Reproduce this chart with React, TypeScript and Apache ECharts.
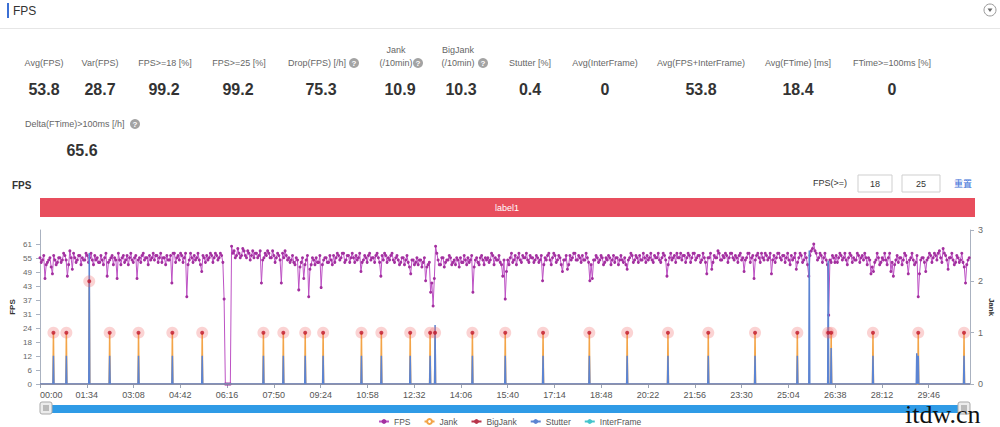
import React, { useEffect, useRef } from "react";
import * as echarts from "echarts";

// ---------------- data ----------------
const FPS_STEP_SECONDS = 5;
const FPS_OFFSET_SECONDS = 2.5;
const TIME_END = 1869;
const X_LABEL_STEP = 94;

// samples at t = i * 5 s
const fpsValues: number[] = [
  55, 54, 46, 53, 55, 48, 54, 53, 55, 54, 56, 47, 58, 50, 55, 54, 56, 55, 54, 56,
  55, 54, 56, 55, 53, 54, 55, 47, 54, 56, 55, 46, 54, 55, 53, 56, 55, 54, 55, 46,
  55, 56, 54, 55, 56, 55, 54, 56, 55, 53, 55, 56, 54, 44, 57, 55, 54, 56, 55, 38,
  54, 55, 56, 55, 54, 49, 55, 56, 55, 56, 55, 56, 55, 56, 37, 0, 0, 60, 58, 56,
  57, 56, 58, 55, 57, 56, 55, 57, 56, 44, 55, 56, 57, 55, 56, 55, 56, 44, 55, 56,
  55, 54, 53, 55, 41, 53, 46, 54, 38, 52, 54, 55, 53, 42, 54, 55, 53, 54, 56, 55,
  56, 55, 57, 54, 56, 55, 55, 56, 55, 49, 54, 55, 56, 54, 55, 56, 55, 47, 54, 56,
  55, 56, 54, 55, 54, 53, 55, 54, 53, 48, 54, 53, 52, 54, 53, 45, 52, 40, 34, 60,
  54, 52, 55, 53, 54, 55, 53, 52, 54, 55, 53, 54, 55, 54, 40, 54, 53, 55, 54, 55,
  55, 54, 56, 55, 54, 53, 47, 37, 54, 55, 53, 56, 55, 54, 56, 55, 54, 56, 55, 54,
  55, 54, 45, 55, 56, 54, 55, 56, 54, 55, 49, 54, 50, 56, 55, 57, 54, 55, 56, 54,
  55, 45, 46, 54, 55, 54, 55, 53, 54, 55, 54, 53, 55, 54, 54, 55, 50, 55, 56, 54,
  55, 56, 54, 55, 56, 55, 54, 56, 55, 54, 55, 56, 47, 55, 54, 56, 57, 55, 54, 56,
  55, 56, 55, 57, 55, 56, 54, 55, 48, 55, 50, 56, 55, 57, 54, 55, 56, 55, 57, 54,
  55, 56, 54, 49, 55, 57, 55, 46, 56, 55, 57, 54, 56, 55, 48, 56, 55, 57, 54, 56,
  55, 54, 56, 55, 50, 55, 56, 54, 55, 47, 58, 61, 57, 55, 56, 55, 54, 30, 53, 55,
  56, 55, 56, 55, 54, 55, 56, 55, 54, 56, 55, 54, 55, 55, 48, 49, 54, 55, 53, 54,
  54, 55, 49, 47, 54, 53, 55, 54, 56, 48, 55, 54, 53, 38, 54, 55, 49, 55, 56, 55,
  56, 57, 55, 59, 56, 50, 55, 54, 53, 55, 54, 53, 44, 54,
];

// samples at t = i * 5 + 2.5 s
const fpsValuesOffset: number[] = [
  53, 56, 52, 54, 51, 56, 52, 55, 53, 57, 54, 52, 55, 57, 53, 56, 52, 54, 57, 53,
  57, 52, 54, 53, 56, 52, 57, 53, 55, 52, 54, 57, 52, 56, 54, 52, 57, 53, 56, 54,
  53, 57, 55, 52, 54, 57, 56, 53, 57, 55, 52, 54, 56, 57, 53, 56, 57, 53, 57, 52,
  57, 53, 54, 57, 52, 56, 53, 54, 57, 53, 57, 54, 57, 53, 0, 0, 0, 57, 55, 59,
  55, 59, 56, 58, 54, 58, 57, 55, 58, 54, 57, 58, 55, 58, 53, 57, 54, 57, 58, 54,
  53, 56, 52, 54, 51, 55, 52, 56, 50, 55, 52, 53, 56, 52, 55, 53, 56, 52, 53, 57,
  54, 57, 53, 56, 53, 57, 53, 54, 57, 53, 56, 53, 57, 55, 53, 57, 53, 56, 57, 53,
  54, 57, 53, 56, 52, 55, 52, 56, 51, 54, 52, 55, 54, 51, 55, 51, 53, 44, 46, 57,
  52, 55, 51, 54, 56, 52, 54, 55, 51, 53, 56, 52, 53, 56, 51, 55, 52, 56, 52, 54,
  53, 57, 52, 54, 56, 52, 54, 49, 52, 57, 54, 52, 57, 53, 55, 57, 53, 55, 53, 56,
  53, 56, 52, 54, 57, 52, 57, 53, 56, 52, 54, 56, 52, 54, 57, 54, 56, 53, 54, 57,
  53, 52, 54, 56, 53, 56, 52, 55, 56, 52, 56, 55, 52, 56, 53, 52, 54, 57, 53, 56,
  53, 54, 57, 53, 54, 57, 53, 55, 57, 53, 57, 54, 52, 57, 55, 53, 55, 57, 56, 53,
  57, 53, 57, 54, 56, 53, 57, 53, 55, 57, 53, 55, 58, 54, 56, 57, 53, 57, 55, 56,
  53, 57, 55, 54, 57, 53, 56, 54, 57, 53, 55, 57, 54, 57, 54, 53, 57, 55, 56, 53,
  57, 52, 54, 57, 53, 57, 53, 57, 52, 56, 59, 58, 54, 57, 53, 57, 52, 54, 56, 53,
  53, 57, 54, 57, 52, 57, 53, 54, 57, 53, 56, 57, 52, 54, 51, 53, 57, 52, 55, 57,
  52, 57, 53, 52, 56, 55, 52, 57, 53, 54, 57, 52, 56, 48, 55, 53, 54, 57, 53, 57,
  54, 58, 53, 57, 54, 55, 57, 52, 56, 53, 57, 51, 52, 55,
];

const jankTimes = [27, 53, 99, 140, 198, 266, 326, 449, 489, 533, 569, 646, 686, 744, 784, 794, 869, 935, 1011, 1104, 1180, 1262, 1343, 1437, 1522, 1584, 1590, 1674, 1765, 1857];
const jankCounts = [1, 1, 2, 1, 1, 1, 1, 1, 1, 1, 1, 1, 1, 1, 1, 1, 1, 1, 1, 1, 1, 1, 1, 1, 1, 1, 1, 1, 1, 1];

const stutterTimes = [27, 53, 99, 140, 198, 266, 326, 449, 489, 533, 569, 646, 686, 744, 784, 794, 869, 935, 1011, 1104, 1180, 1262, 1343, 1437, 1522, 1546, 1584, 1590, 1674, 1762, 1765, 1857];
const stutterValues = [0.55, 0.55, 2.55, 0.55, 0.55, 0.55, 0.55, 0.55, 0.55, 0.55, 0.55, 0.55, 0.55, 0.55, 0.55, 1.15, 0.55, 0.55, 0.55, 0.55, 0.55, 0.55, 0.55, 0.55, 0.55, 2.6, 2.4, 0.7, 0.55, 0.6, 0.55, 0.55];

const statLabels = ["Avg(FPS)", "Var(FPS)", "FPS>=18 [%]", "FPS>=25 [%]", "Drop(FPS) [/h]", "Jank\n(/10min)", "BigJank\n(/10min)", "Stutter [%]", "Avg(InterFrame)", "Avg(FPS+InterFrame)", "Avg(FTime) [ms]", "FTime>=100ms [%]"];
const statValues = ["53.8", "28.7", "99.2", "99.2", "75.3", "10.9", "10.3", "0.4", "0", "53.8", "18.4", "0"];
const extraStatLabel = "Delta(FTime)>100ms [/h]";
const extraStatValue = "65.6";

const legendNames = ["FPS", "Jank", "BigJank", "Stutter", "InterFrame"];
const fpsThresholds = ["18", "25"];
const leftAxisName = "FPS";
const rightAxisName = "Jank";

// ---------------- layout (not data) ----------------
const statLabelX = [44, 100, 165, 239, 317, 396, 458, 530, 605, 701, 798, 892];
const statValueX = [44, 100, 164, 238, 321, 400, 461, 530, 605, 701, 798, 892];
const statHelpX: (number | null)[] = [null, null, null, null, 354, 418, 483, null, null, null, null, null];

const FONT = "Liberation Sans, Arial, Helvetica, sans-serif";

function pad2(n: number) {
  return (n < 10 ? "0" : "") + n;
}
function fmtTime(v: number) {
  const s = Math.round(v);
  return pad2(Math.floor(s / 60)) + ":" + pad2(s % 60);
}

function spikes(times: number[], values: number[], end: number) {
  const pairs = times.map((t, i) => [t, values[i]]).sort((a, b) => a[0] - b[0]);
  const pts: number[][] = [[0, 0]];
  pairs.forEach(([t, v]) => {
    pts.push([t - 1, 0], [t, v], [t + 1, 0]);
  });
  pts.push([end, 0]);
  return pts;
}

function txt(text: string, x: number, y: number, o: any = {}) {
  return {
    type: "text",
    x,
    y,
    rotation: o.rotation || 0,
    silent: true,
    z: 10,
    style: {
      text,
      fill: o.fill || "#666",
      fontSize: o.size || 9,
      fontWeight: o.weight || "normal",
      fontFamily: o.family || FONT,
      textAlign: o.align || "center",
      textVerticalAlign: o.valign || "middle",
    },
  };
}

function helpIcon(x: number, y: number) {
  return [
    { type: "circle", silent: true, shape: { cx: x, cy: y, r: 5 }, style: { fill: "#a3a3a3" } },
    txt("?", x, y + 0.5, { fill: "#fff", size: 8, weight: "bold" }),
  ];
}

export default function App() {
  const ref = useRef<HTMLDivElement>(null);

  useEffect(() => {
    if (!ref.current) return;
    const chart = echarts.init(ref.current, null, { renderer: "svg" });

    const fpsData = fpsValues
      .map((v, i) => [i * FPS_STEP_SECONDS, v])
      .concat(fpsValuesOffset.map((v, i) => [i * FPS_STEP_SECONDS + FPS_OFFSET_SECONDS, v]))
      .sort((a, b) => a[0] - b[0]);
    const jankData = spikes(jankTimes, jankCounts, TIME_END);
    const stutterData = spikes(stutterTimes, stutterValues, TIME_END);
    const markData = jankTimes.map((t, i) => [t, jankCounts[i]]);

    const graphics: any[] = [];
    // header
    graphics.push({ type: "rect", silent: true, shape: { x: 7, y: 3, width: 2, height: 15 }, style: { fill: "#3b6fd4" } });
    graphics.push(txt("FPS", 13, 11, { align: "left", size: 12, fill: "#333", weight: "500" }));
    graphics.push({ type: "circle", silent: true, shape: { cx: 990, cy: 10, r: 6 }, style: { fill: "#fff", stroke: "#9a9a9a", lineWidth: 1 } });
    graphics.push({ type: "polygon", silent: true, shape: { points: [[987.5, 8.5], [992.5, 8.5], [990, 12]] }, style: { fill: "#666" } });
    graphics.push({ type: "line", silent: true, shape: { x1: 0, y1: 28.5, x2: 1000, y2: 28.5 }, style: { stroke: "#e6e6e6", lineWidth: 1 } });

    // stats
    statLabels.forEach((label, i) => {
      const lines = label.split("\n");
      if (lines.length === 2) {
        graphics.push(txt(lines[0], statLabelX[i], 50));
        graphics.push(txt(lines[1], statLabelX[i], 63));
      } else {
        graphics.push(txt(label, statLabelX[i], 63));
      }
      const hx = statHelpX[i];
      if (hx !== null) graphics.push(...helpIcon(hx, 63));
      graphics.push(txt(statValues[i], statValueX[i], 89, { size: 16, weight: "bold", fill: "#333" }));
    });
    graphics.push(txt(extraStatLabel, 25, 124, { align: "left" }));
    graphics.push(...helpIcon(135, 124));
    graphics.push(txt(extraStatValue, 82, 150, { size: 16, weight: "bold", fill: "#333" }));

    // chart title & controls
    graphics.push(txt("FPS", 12, 185, { align: "left", size: 10, weight: "bold", fill: "#333" }));
    graphics.push(txt("FPS(>=)", 830, 183, { size: 9, fill: "#333" }));
    const boxes = [
      { x: 858, w: 34 },
      { x: 902, w: 38 },
    ];
    boxes.forEach((b, i) => {
      graphics.push({ type: "rect", silent: true, shape: { x: b.x, y: 175, width: b.w, height: 17 }, style: { fill: "#fff", stroke: "#cfcfcf", lineWidth: 1 } });
      graphics.push(txt(fpsThresholds[i], b.x + b.w / 2, 184, { size: 9, fill: "#333" }));
    });
    graphics.push(txt("重置", 963, 183, { size: 9, fill: "#3a6fd8", family: "Noto Sans CJK SC, sans-serif" }));

    // label bar
    graphics.push({ type: "rect", silent: true, shape: { x: 40, y: 198, width: 935, height: 19 }, style: { fill: "#e84e5d" } });
    graphics.push(txt("label1", 507, 207.5, { size: 9, fill: "#fff" }));

    // axis names (rotated)
    graphics.push(txt(leftAxisName, 12, 307, { size: 8, weight: "bold", fill: "#333", rotation: Math.PI / 2 }));
    graphics.push(txt(rightAxisName, 991, 307, { size: 8, weight: "bold", fill: "#333", rotation: -Math.PI / 2 }));

    // slider
    graphics.push({ type: "rect", silent: true, shape: { x: 46, y: 405, width: 916, height: 8 }, style: { fill: "#2f9be6" } });
    [40, 958].forEach((hx) => {
      graphics.push({ type: "rect", silent: true, shape: { x: hx, y: 402, width: 12, height: 12, r: 2 }, style: { fill: "#ececec", stroke: "#a9a9a9", lineWidth: 1 } });
      [hx + 4, hx + 6, hx + 8].forEach((gx) => {
        graphics.push({ type: "line", silent: true, shape: { x1: gx, y1: 405, x2: gx, y2: 411 }, style: { stroke: "#888", lineWidth: 1 } });
      });
    });

    // watermark
    graphics.push(txt("itdw.cn", 905, 427, { align: "left", valign: "bottom", size: 26, fill: "#111", family: "Liberation Serif, DejaVu Serif, serif" }));

    const option: any = {
      animation: false,
      backgroundColor: "#fff",
      textStyle: { fontFamily: FONT },
      grid: { left: 40, right: 30, top: 230, bottom: 43, containLabel: false, outerBoundsMode: "none" },
      legend: {
        data: legendNames,
        left: 378,
        top: 417,
        padding: 0,
        itemWidth: 10,
        itemHeight: 6,
        itemGap: 13,
        textStyle: { fontSize: 8.5, color: "#555", fontFamily: FONT },
      },
      xAxis: {
        type: "value",
        min: 0,
        max: TIME_END,
        interval: X_LABEL_STEP,
        axisLine: { show: true, lineStyle: { color: "#9aa4b4" } },
        axisTick: { show: true, length: 4, lineStyle: { color: "#9aa4b4" } },
        axisLabel: { color: "#555", fontSize: 9, margin: 6, formatter: fmtTime, showMaxLabel: false, alignMinLabel: "left" },
        splitLine: { show: false },
      },
      yAxis: [
        {
          type: "value",
          position: "left",
          min: 0,
          max: 67.1,
          interval: 6.1,
          axisLine: { show: true, lineStyle: { color: "#aab2c0" } },
          axisTick: { show: true, length: 4, lineStyle: { color: "#aab2c0" } },
          axisLabel: { color: "#666", fontSize: 8, margin: 8, showMaxLabel: false, formatter: (v: number) => String(Math.round(v)) },
          splitLine: { show: false },
        },
        {
          type: "value",
          position: "right",
          min: 0,
          max: 3,
          interval: 1,
          axisLine: { show: true, lineStyle: { color: "#aab2c0" } },
          axisTick: { show: true, length: 4, lineStyle: { color: "#aab2c0" } },
          axisLabel: { color: "#666", fontSize: 9, margin: 8 },
          splitLine: { show: false },
        },
      ],
      series: [
        {
          name: "FPS",
          type: "line",
          yAxisIndex: 0,
          data: fpsData,
          symbol: "circle",
          symbolSize: 3,
          showSymbol: true,
          lineStyle: { color: "#bd52c4", width: 1 },
          itemStyle: { color: "#a3309f" },
          z: 2,
        },
        {
          name: "Jank",
          type: "line",
          yAxisIndex: 1,
          data: jankData,
          symbol: "emptyCircle",
          showSymbol: false,
          lineStyle: { color: "#f3a447", width: 1.5 },
          itemStyle: { color: "#f3a447" },
          z: 3,
        },
        {
          name: "BigJank",
          type: "line",
          yAxisIndex: 1,
          data: [],
          symbol: "none",
          lineStyle: { color: "#b8344a", width: 1.5 },
          itemStyle: { color: "#b8344a" },
        },
        {
          name: "Stutter",
          type: "line",
          yAxisIndex: 1,
          data: stutterData,
          symbol: "none",
          lineStyle: { color: "#5c84d2", width: 1.5 },
          itemStyle: { color: "#5c84d2" },
          z: 4,
        },
        {
          name: "InterFrame",
          type: "line",
          yAxisIndex: 1,
          data: [],
          symbol: "none",
          lineStyle: { color: "#44c4cc", width: 1.5 },
          itemStyle: { color: "#44c4cc" },
        },
        {
          name: "JankHalo",
          type: "scatter",
          yAxisIndex: 1,
          data: markData,
          symbolSize: 12,
          itemStyle: { color: "rgba(242,96,96,0.35)" },
          silent: true,
          z: 5,
        },
        {
          name: "JankDot",
          type: "scatter",
          yAxisIndex: 1,
          data: markData,
          symbolSize: 4,
          itemStyle: { color: "#c0182c" },
          silent: true,
          z: 6,
        },
      ],
      graphic: { elements: graphics },
    };

    chart.setOption(option);
    return () => chart.dispose();
  }, []);

  return (
    <div
      ref={ref}
      style={{ position: "fixed", left: 0, top: 0, width: 1000, height: 427, background: "#fff" }}
    />
  );
}
